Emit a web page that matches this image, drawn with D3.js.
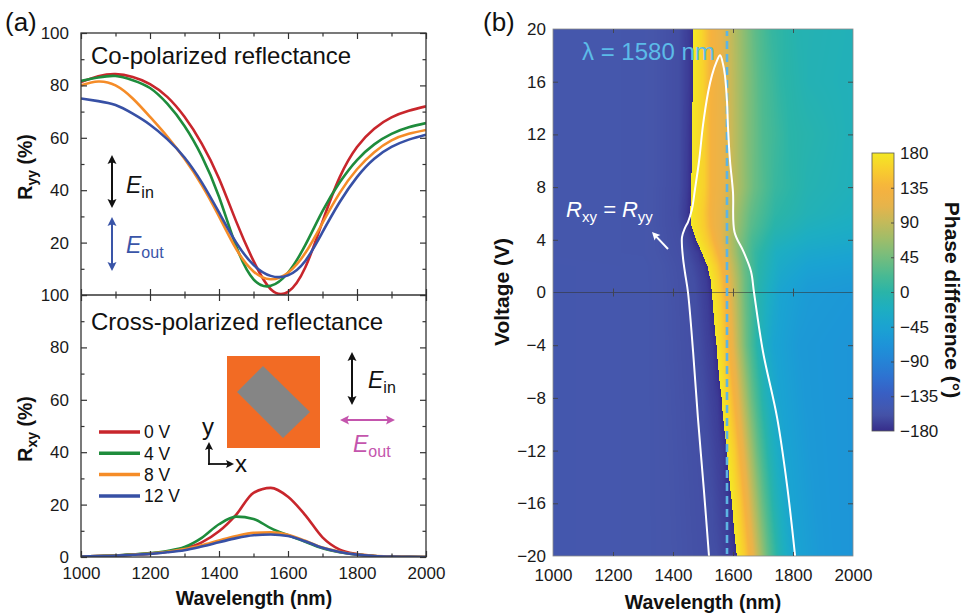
<!DOCTYPE html>
<html><head><meta charset="utf-8">
<script src="https://cdn.jsdelivr.net/npm/d3@7/dist/d3.min.js"></script>
<style>body{margin:0;background:#fff}svg{display:block}</style>
</head><body>
<svg id="c" width="965" height="613"></svg>
<script>
// ---------------- DATA ----------------
const wavelengths = [1000,1050,1100,1150,1200,1250,1300,1350,1400,1450,1500,1550,1600,1650,1700,1750,1800,1850,1900,1950,2000];
const seriesLabels = ["0 V","4 V","8 V","12 V"];
const ryy_0V  = [81.3,83.5,84.3,83.2,80.5,75.6,68,57.8,44.5,28,13,2.2,1.2,10.5,28,45,56.5,63.5,67.8,70.3,72];
const ryy_4V  = [81.7,83,83.6,82,79,73,64.5,53,37.5,18.5,6,3.5,8.5,19,32,43,51.5,57.5,61.5,64,65.6];
const ryy_8V  = [80,81.5,80,75,68,60.5,52,42,30,17.5,9,6,8.5,16,27.5,39,48,54.5,59,61.5,63];
const ryy_12V = [75,74,72.5,69.2,65,59.5,52.5,43,31.5,20,11.5,7.3,7.5,13,24,35.5,45,52,56.5,59.3,61.2];
const rxy_0V  = [0.2,0.4,0.6,0.9,1.3,2.0,3.3,5.6,9.8,16.2,24.5,26.4,23,16,7.5,2.8,1.1,0.4,0.15,0.05,0];
const rxy_4V  = [0.2,0.4,0.6,1.0,1.5,2.3,3.8,7.3,12.5,15.4,14.5,11,8.3,5.8,3.3,1.8,0.9,0.4,0.15,0.05,0];
const rxy_8V  = [0.2,0.35,0.5,0.9,1.3,2.0,3.0,4.5,6.3,8.0,9.2,9.4,8.5,6.2,3.6,2.0,1.0,0.45,0.2,0.05,0];
const rxy_12V = [0.2,0.35,0.5,0.85,1.2,1.8,2.6,4.0,5.6,7.2,8.3,8.6,8.0,6.0,3.5,1.9,0.9,0.4,0.15,0.05,0];

const xTicks = [1000,1200,1400,1600,1800,2000];
const ryyTickLabels = [20,40,60,80,100];
const rxyTickLabels = [0,20,40,60,80,100];
const voltTicks = [20,16,12,8,4,0,-4,-8,-12,-16,-20];
const phaseTicks = [180,135,90,45,0,-45,-90,-135,-180];

// phase map (unwrapped phase, degrees): rows of [wavelength, phase] knots
const upperVoltages = [20,16,12,8,6,5,4,3,2,1,0];
const upperKnots = [
 [[1000,205],[1300,204],[1420,198],[1455,188],[1468,180],[1495,165],[1520,140],[1550,120],[1580,100],[1620,70],[1670,35],[1730,8],[1820,-8],[2000,-14]],
 [[1000,205],[1300,204],[1420,198],[1453,188],[1466,180],[1500,162],[1525,135],[1560,117],[1595,92],[1640,58],[1690,28],[1760,3],[1850,-10],[2000,-15]],
 [[1000,205],[1300,204],[1420,198],[1450,188],[1463,180],[1505,160],[1530,130],[1570,112],[1600,90],[1650,52],[1700,25],[1790,0],[2000,-15]],
 [[1000,205],[1300,204],[1420,198],[1448,188],[1461,180],[1505,160],[1530,130],[1575,110],[1610,82],[1670,40],[1740,10],[1850,-8],[2000,-16]],
 [[1000,205],[1300,204],[1415,198],[1444,188],[1457,180],[1500,158],[1530,128],[1570,105],[1605,75],[1660,35],[1740,3],[1850,-12],[2000,-20]],
 [[1000,205],[1300,204],[1420,198],[1449,188],[1462,180],[1505,156],[1535,126],[1575,100],[1610,68],[1660,30],[1740,-3],[1850,-18],[2000,-25]],
 [[1000,205],[1300,204],[1430,198],[1464,188],[1477,180],[1515,156],[1545,125],[1580,95],[1615,58],[1665,20],[1740,-12],[1850,-26],[2000,-32]],
 [[1000,205],[1300,204],[1445,198],[1484,188],[1497,180],[1530,156],[1558,125],[1590,90],[1625,48],[1675,8],[1745,-22],[1850,-36],[2000,-42]],
 [[1000,206],[1300,205],[1460,198],[1502,188],[1515,180],[1545,157],[1570,125],[1600,88],[1635,42],[1685,0],[1755,-30],[1850,-45],[2000,-50]],
 [[1000,206],[1300,205],[1470,198],[1512,188],[1525,180],[1552,158],[1577,125],[1605,88],[1640,40],[1690,-5],[1760,-37],[1850,-52],[2000,-57]],
 [[1000,206],[1300,205],[1475,198],[1517,188],[1530,180],[1557,158],[1580,125],[1607,88],[1640,40],[1690,-8],[1757,-42],[1850,-57],[2000,-62]]
];
const lowerVoltages = [0,-4,-8,-12,-16,-20];
const lowerKnots = [
 [[1000,206],[1300,205],[1475,198],[1517,188],[1530,180],[1557,158],[1580,125],[1607,88],[1640,40],[1690,-8],[1757,-42],[1850,-57],[2000,-62]],
 [[1000,206],[1300,205],[1485,198],[1532,188],[1545,180],[1570,158],[1593,125],[1615,88],[1645,40],[1685,-8],[1735,-42],[1825,-60],[2000,-66]],
 [[1000,206],[1300,205],[1500,198],[1549,188],[1562,180],[1587,158],[1610,125],[1632,88],[1662,40],[1702,-8],[1752,-42],[1842,-60],[2000,-66]],
 [[1000,206],[1300,205],[1515,198],[1567,188],[1580,180],[1605,158],[1628,125],[1650,88],[1680,40],[1720,-8],[1770,-42],[1860,-60],[2000,-66]],
 [[1000,206],[1300,205],[1530,198],[1584,188],[1597,180],[1622,158],[1645,125],[1667,88],[1697,40],[1737,-8],[1787,-42],[1877,-60],[2000,-66]],
 [[1000,206],[1300,205],[1545,198],[1600,188],[1613,180],[1638,158],[1661,125],[1683,88],[1713,40],[1753,-8],[1803,-42],[1893,-60],[2000,-66]]
];
// Rxy = Ryy contour
const contourLambda  = [1520,1503,1483,1467,1450,1440,1433,1430,1440,1450,1463,1473,1487,1500,1517,1530,1545,1557,1567,1573,1580,1583,1590,1600,1605,1635,1660,1670,1700,1747,1780,1807];
const contourVoltage = [-20,-15,-9.5,-4.5,0,1.5,2.7,4.2,4.9,5.35,6.3,7.8,10,12.7,15.2,16.5,17.5,18,17.3,16.5,14.5,12.7,10,7.6,4.6,3.1,1.6,0,-4.5,-9.5,-14.6,-20];
const markedWavelength = 1580;

// ---------------- STYLE ----------------
const seriesColors = ["#c8262c","#1e8c3c","#f58c28","#3750a5"];
// colour map sampled from the reference colour bar (-180 .. 180, 22.5 deg steps)
const cmapHex = ["#362c8a","#4656aa","#3b5cc0","#2f70d0","#2583d6","#1d94d8","#1aa3d2","#1daec2","#2ab4a8","#4bba92","#74bd7e","#9dbd6a","#c3ba5a","#e8b34a","#f6b23e","#f8cd2e","#f4e824"];
const FONT = "'Liberation Sans', Arial, Helvetica, sans-serif";
const AX = "#333";
const fmt = d3.format("d");

const svg = d3.select("#c").style("font-family", FONT);

// ---------------- PANEL (a) ----------------
const xA = d3.scaleLinear().domain([1000,2000]).range([81,426]);
const yTop = d3.scaleLinear().domain([0,100]).range([295,33]);
const yBot = d3.scaleLinear().domain([0,100]).range([557,295]);

const defs = svg.append("defs");
defs.append("clipPath").attr("id","clipTop").append("rect").attr("x",81).attr("y",33).attr("width",345).attr("height",262);
defs.append("clipPath").attr("id","clipBot").append("rect").attr("x",81).attr("y",295).attr("width",345).attr("height",262);

const ryySeries = [ryy_0V, ryy_4V, ryy_8V, ryy_12V];
const rxySeries = [rxy_0V, rxy_4V, rxy_8V, rxy_12V];

const lineTop = d3.line().x((d,i)=>xA(wavelengths[i])).y(d=>yTop(d)).curve(d3.curveNatural);
const lineBot = d3.line().x((d,i)=>xA(wavelengths[i])).y(d=>yBot(d)).curve(d3.curveMonotoneX);

const gTop = svg.append("g").attr("clip-path","url(#clipTop)");
ryySeries.forEach((s,k)=> gTop.append("path").attr("d",lineTop(s)).attr("fill","none").attr("stroke",seriesColors[k]).attr("stroke-width",2.6));
const gBot = svg.append("g").attr("clip-path","url(#clipBot)");
rxySeries.forEach((s,k)=> gBot.append("path").attr("d",lineBot(s)).attr("fill","none").attr("stroke",seriesColors[k]).attr("stroke-width",2.6));

function styleTicks(g, color, width){
  g.select(".domain").remove();
  g.selectAll("line").attr("stroke",color).attr("stroke-width",width);
  g.selectAll("text").attr("font-size",17).attr("fill","#1a1a1a").attr("font-family",FONT);
}
function tickGroup(axis, tx, ty, color, width){
  const g = svg.append("g").attr("transform",`translate(${tx},${ty})`).call(axis);
  styleTicks(g, color, width);
  return g;
}
const xMajor = d3.range(1000,2001,200), xMinor = d3.range(1100,2000,200);
const yMajor = d3.range(0,101,20), yMinor = d3.range(10,100,20);
[yTop,yBot].forEach(ys=>{
  tickGroup(d3.axisLeft(ys).tickValues(yMajor).tickSize(-6).tickFormat(""),81,0,AX,1.2);
  tickGroup(d3.axisLeft(ys).tickValues(yMinor).tickSize(-3.5).tickFormat(""),81,0,AX,1.2);
  tickGroup(d3.axisRight(ys).tickValues(yMajor).tickSize(-6).tickFormat(""),426,0,AX,1.2);
  tickGroup(d3.axisRight(ys).tickValues(yMinor).tickSize(-3.5).tickFormat(""),426,0,AX,1.2);
});
[[d3.axisTop,33],[d3.axisBottom,295],[d3.axisTop,295],[d3.axisBottom,557]].forEach(([fn,yy])=>{
  tickGroup(fn(xA).tickValues(xMajor).tickSize(-6).tickFormat(""),0,yy,AX,1.2);
  tickGroup(fn(xA).tickValues(xMinor).tickSize(-3.5).tickFormat(""),0,yy,AX,1.2);
});
tickGroup(d3.axisLeft(yTop).tickValues(ryyTickLabels).tickSize(0).tickPadding(12).tickFormat(fmt),81,0,AX,0);
tickGroup(d3.axisLeft(yBot).tickValues(rxyTickLabels).tickSize(0).tickPadding(12).tickFormat(fmt),81,0,AX,0);
tickGroup(d3.axisBottom(xA).tickValues(xTicks).tickSize(0).tickPadding(10).tickFormat(fmt),0,557,AX,0);
svg.append("rect").attr("x",81).attr("y",33).attr("width",345).attr("height",524).attr("fill","none").attr("stroke",AX).attr("stroke-width",1.3);
svg.append("line").attr("x1",81).attr("x2",426).attr("y1",295).attr("y2",295).attr("stroke",AX).attr("stroke-width",1.3);

svg.append("text").attr("x",5).attr("y",31).attr("font-size",26).attr("fill","#111").text("(a)");
svg.append("text").attr("x",91).attr("y",64).attr("font-size",24).attr("fill","#111").text("Co-polarized reflectance");
svg.append("text").attr("x",91).attr("y",330).attr("font-size",24).attr("fill","#111").text("Cross-polarized reflectance");

function subLabel(x,y,main,sub,rest,size,subSize,opts){
  const t = svg.append("text").attr("x",x).attr("y",y).attr("font-size",size).attr("fill",opts.fill||"#111");
  if(opts.bold) t.attr("font-weight","bold");
  if(opts.anchor) t.attr("text-anchor",opts.anchor);
  if(opts.transform) t.attr("transform",opts.transform);
  t.append("tspan").attr("font-style",opts.italic?"italic":null).text(main);
  t.append("tspan").attr("font-size",subSize).attr("dy",subSize*0.33).text(sub);
  if(rest) t.append("tspan").attr("dy",-subSize*0.33).text(rest);
  return t;
}
subLabel(0,0,"R","yy"," (%)",19.5,14,{bold:true,anchor:"middle",transform:"translate(32,167) rotate(-90)"});
subLabel(0,0,"R","xy"," (%)",19.5,14,{bold:true,anchor:"middle",transform:"translate(32,429) rotate(-90)"});
svg.append("text").attr("x",254).attr("y",605).attr("text-anchor","middle").attr("font-size",19.5).attr("font-weight","bold").attr("fill","#111").text("Wavelength (nm)");

function arrowHead(x,y,ux,uy,color,len,w){
  const px=-uy, py=ux;
  svg.append("polygon").attr("points",[[x,y],[x-ux*len+px*w,y-uy*len+py*w],[x-ux*len*0.8,y-uy*len*0.8],[x-ux*len-px*w,y-uy*len-py*w]].map(p=>p.join(",")).join(" ")).attr("fill",color);
}
function arrow(x1,y1,x2,y2,color,both,sw=2,len=9,w=4.5){
  const dx=x2-x1, dy=y2-y1, L=Math.hypot(dx,dy), ux=dx/L, uy=dy/L;
  svg.append("line").attr("x1",both?x1+ux*len*0.7:x1).attr("y1",both?y1+uy*len*0.7:y1).attr("x2",x2-ux*len*0.7).attr("y2",y2-uy*len*0.7).attr("stroke",color).attr("stroke-width",sw);
  arrowHead(x2,y2,ux,uy,color,len,w);
  if(both) arrowHead(x1,y1,-ux,-uy,color,len,w);
}
const blueE = "#3a55a8", magE = "#c455ad";
arrow(112,155,112,208,"#111",true);
arrow(112,217,112,271,blueE,true);
subLabel(126,193,"E","in",null,23,16,{italic:true});
subLabel(126,253,"E","out",null,23,16,{italic:true,fill:blueE});
arrow(352,352,352,405,"#111",true);
arrow(340,420,395,420,magE,true);
subLabel(368,388,"E","in",null,23,16,{italic:true});
subLabel(353,452,"E","out",null,23,16,{italic:true,fill:magE});

svg.append("rect").attr("x",227).attr("y",356).attr("width",93).attr("height",92).attr("fill","#f26b24");
svg.append("polygon").attr("points","237,392 263,366 310,412 283,438").attr("fill","#858585");
arrow(209,465,209,442,"#111",false,1.8,8,4);
arrow(208,464,234,464,"#111",false,1.8,8,4);
svg.append("text").attr("x",208).attr("y",435).attr("text-anchor","middle").attr("font-size",24).attr("fill","#111").text("y");
svg.append("text").attr("x",235).attr("y",472).attr("font-size",24).attr("fill","#111").text("x");

seriesLabels.forEach((lab,k)=>{
  const ly = 432 + k*21.3;
  svg.append("line").attr("x1",99).attr("x2",140).attr("y1",ly).attr("y2",ly).attr("stroke",seriesColors[k]).attr("stroke-width",3.5);
  svg.append("text").attr("x",144).attr("y",ly).attr("dy","0.36em").attr("font-size",17.5).attr("fill","#111").text(lab);
});

// ---------------- PANEL (b) ----------------
const xB = d3.scaleLinear().domain([1000,2000]).range([553,853]);
const yB = d3.scaleLinear().domain([-20,20]).range([556,29]);
const phaseColor = d3.scaleLinear().domain(cmapHex.map((c,i)=>-180+360*i/(cmapHex.length-1))).range(cmapHex).interpolate(d3.interpolateRgb);

function rowValueAt(kn, lam){
  if(lam<=kn[0][0]) return kn[0][1];
  for(let k=1;k<kn.length;k++){
    if(lam<=kn[k][0]){ const [l0,v0]=kn[k-1],[l1,v1]=kn[k]; return v0+(v1-v0)*(lam-l0)/(l1-l0); }
  }
  return kn[kn.length-1][1];
}
(function drawHeat(){
  const x0=553, y0=29, nx=300, ny=527;
  const cv=document.createElement("canvas"); cv.width=nx; cv.height=ny;
  const ctx=cv.getContext("2d"); const im=ctx.createImageData(nx,ny);
  const lamCols=d3.range(nx).map(i=>xB.invert(x0+i+0.5));
  const prep=list=>list.map(kn=>lamCols.map(l=>rowValueAt(kn,l)));
  const upV=prep(upperKnots), loV=prep(lowerKnots);
  const lut=d3.range(721).map(k=>d3.rgb(phaseColor(-180+k*0.5)));
  for(let j=0;j<ny;j++){
    const V=yB.invert(y0+j+0.5);
    const vs=V>=0?upperVoltages:lowerVoltages, vals=V>=0?upV:loV;
    let i=0; while(i<vs.length-2 && V<vs[i+1]) i++;
    let t=(vs[i]-V)/(vs[i]-vs[i+1]); t=Math.max(0,Math.min(1,t));
    for(let c=0;c<nx;c++){
      const val=(1-t)*vals[i][c]+t*vals[i+1][c];
      const w=(((val+180)%360)+360)%360-180;
      const col=lut[Math.max(0,Math.min(720,Math.round((w+180)*2)))];
      const p=(j*nx+c)*4; im.data[p]=col.r; im.data[p+1]=col.g; im.data[p+2]=col.b; im.data[p+3]=255;
    }
  }
  ctx.putImageData(im,0,0);
  svg.append("image").attr("href",cv.toDataURL()).attr("x",x0).attr("y",y0).attr("width",nx).attr("height",ny).attr("preserveAspectRatio","none");
})();

defs.append("clipPath").attr("id","clipB").append("rect").attr("x",553).attr("y",29).attr("width",300).attr("height",527);
svg.append("line").attr("x1",553).attr("x2",853).attr("y1",yB(0)).attr("y2",yB(0)).attr("stroke","#333").attr("stroke-width",0.8).attr("opacity",0.7);
svg.append("line").attr("x1",xB(markedWavelength)).attr("x2",xB(markedWavelength)).attr("y1",31).attr("y2",554).attr("stroke","#5db4e3").attr("stroke-width",2.6).attr("stroke-dasharray","8,5").attr("stroke-dashoffset",-10);
svg.append("path").attr("clip-path","url(#clipB)")
  .attr("d",d3.line().x((d,i)=>xB(contourLambda[i])).y(d=>yB(d)).curve(d3.curveCatmullRom.alpha(0.5))(contourVoltage))
  .attr("fill","none").attr("stroke","#fff").attr("stroke-width",2);
svg.append("rect").attr("x",553).attr("y",29).attr("width",300).attr("height",527).attr("fill","none").attr("stroke","#8a8a8a").attr("stroke-width",0.8);
const bx = [1200,1400,1600,1800], byUp=[16,12,8,4], byLo=[-4,-8,-12,-16];
[[d3.axisTop,29],[d3.axisBottom,556],[d3.axisBottom,yB(0)],[d3.axisTop,yB(0)]].forEach(([fn,yy])=>
  tickGroup(fn(xB).tickValues(bx).tickSize(-4).tickFormat(""),0,yy,"#444",0.9));
tickGroup(d3.axisLeft(yB).tickValues(byUp.concat(byLo)).tickSize(-5).tickFormat(""),553,0,"#444",0.9);
tickGroup(d3.axisRight(yB).tickValues(byUp.concat(byLo)).tickSize(-5).tickFormat(""),853,0,"#444",0.9);
tickGroup(d3.axisLeft(yB).tickValues(voltTicks).tickSize(0).tickPadding(7).tickFormat(fmt),553,0,"#444",0);
tickGroup(d3.axisBottom(xB).tickValues(xTicks).tickSize(0).tickPadding(13).tickFormat(fmt),0,556,"#444",0);

svg.append("text").attr("x",483).attr("y",31).attr("font-size",26).attr("fill","#111").text("(b)");
svg.append("text").attr("transform","translate(509,292) rotate(-90)").attr("text-anchor","middle").attr("font-size",21).attr("font-weight","bold").attr("fill","#111").text("Voltage (V)");
svg.append("text").attr("x",703).attr("y",609).attr("text-anchor","middle").attr("font-size",19.5).attr("font-weight","bold").attr("fill","#111").text("Wavelength (nm)");

svg.append("text").attr("x",582).attr("y",60).attr("font-size",24).attr("fill","#5cbbe8").text("λ = 1580 nm");
subLabel(566,217,"R","xy",null,22,15,{italic:true,fill:"#fff"}).call(t=>{
  t.append("tspan").attr("dy",-15*0.33).attr("font-style","italic").text(" = R");
  t.append("tspan").attr("font-size",15).attr("dy",15*0.33).text("yy");
});
arrow(668,249,652,232,"#fff",false,2,8,4);

const cS = d3.scaleLinear().domain([-180,180]).range([431,153]);
const grad = defs.append("linearGradient").attr("id","cbar").attr("x1",0).attr("y1",1).attr("x2",0).attr("y2",0);
d3.range(0,37).forEach(k=>grad.append("stop").attr("offset",k/36).attr("stop-color",phaseColor(-180+k*10)));
svg.append("rect").attr("x",872).attr("y",cS(180)).attr("width",22).attr("height",cS(-180)-cS(180)).attr("fill","url(#cbar)").attr("stroke","#555").attr("stroke-width",0.8);
tickGroup(d3.axisRight(cS).tickValues(phaseTicks.slice(1,-1)).tickSize(-3).tickFormat(""),894,0,"#444",0.9);
tickGroup(d3.axisRight(cS).tickValues(phaseTicks).tickSize(0).tickPadding(6).tickFormat(fmt),894,0,"#444",0);
svg.append("text").attr("transform","translate(945,300) rotate(90)").attr("text-anchor","middle").attr("font-size",21).attr("font-weight","bold").attr("fill","#111").text("Phase difference (°)");
</script>
</body></html>
